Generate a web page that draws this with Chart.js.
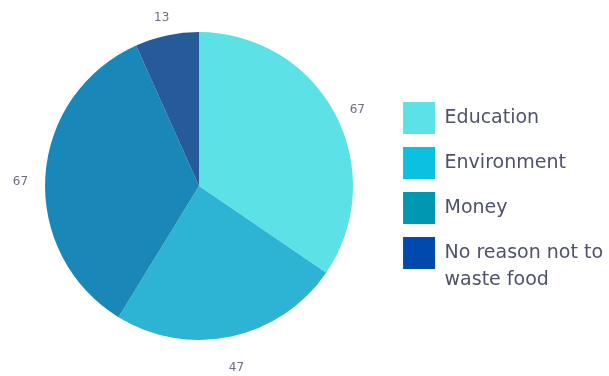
<!DOCTYPE html>
<html>
<head>
<meta charset="utf-8">
<script src="https://cdn.jsdelivr.net/npm/chart.js@4.4.0/dist/chart.umd.min.js"></script>
<style>
  html, body { margin: 0; padding: 0; background: #fff; }
  #wrap { width: 609px; height: 376px; }
</style>
</head>
<body>
<div id="wrap"><canvas id="pie-chart"></canvas></div>
<script>
  const labels = ["Education", "Environment", "Money", ["No reason not to", "waste food"]];
  const values = [67, 47, 67, 13];
  const sliceColors = ["#5ce1e6", "#2db4d4", "#1988b9", "#255b99"];
  const legendColors = ["#5ce1e6", "#0cc0df", "#0097b2", "#004aad"];

  // value labels just outside each slice
  const outsideLabels = {
    id: "outsideLabels",
    afterDatasetsDraw(chart) {
      const ctx = chart.ctx;
      const meta = chart.getDatasetMeta(0);
      ctx.save();
      ctx.font = "12px 'DejaVu Sans'";
      ctx.fillStyle = "#6c6f85";
      ctx.textAlign = "center";
      ctx.textBaseline = "middle";
      meta.data.forEach((arc, i) => {
        const p = arc.getProps(["x", "y", "startAngle", "endAngle", "outerRadius"], true);
        const mid = (p.startAngle + p.endAngle) / 2;
        const r = p.outerRadius + 25;
        ctx.fillText(String(values[i]), p.x + Math.cos(mid) * r, p.y + Math.sin(mid) * r + 7);
      });
      ctx.restore();
    }
  };

  const config = {
    type: "pie",
    data: {
      labels: labels,
      datasets: [
        {
          data: values,
          backgroundColor: sliceColors,
          borderWidth: 0,
          radius: 154
        }
      ]
    },
    options: {
      responsive: true,
      maintainAspectRatio: false,
      animation: false,
      layout: { padding: { top: 0, bottom: 4, left: 8, right: -4 } },
      plugins: {
        tooltip: { enabled: false },
        legend: {
          position: "right",
          title: { display: true, text: "", font: { size: 12 }, padding: { top: 0, bottom: 6.6 } },
          labels: {
            boxWidth: 32,
            boxHeight: 32,
            padding: 13,
            useBorderRadius: true,
            borderRadius: 4,
            color: "#4f526b",
            font: { family: "'DejaVu Sans'", size: 19, lineHeight: 27 / 19 },
            generateLabels(chart) {
              return chart.data.labels.map((l, i) => ({
                text: l,
                fillStyle: legendColors[i],
                strokeStyle: legendColors[i],
                lineWidth: 0,
                fontColor: "#4f526b",
                index: i
              }));
            }
          }
        }
      }
    },
    plugins: [outsideLabels]
  };

  new Chart(document.getElementById("pie-chart"), config);
</script>
</body>
</html>
